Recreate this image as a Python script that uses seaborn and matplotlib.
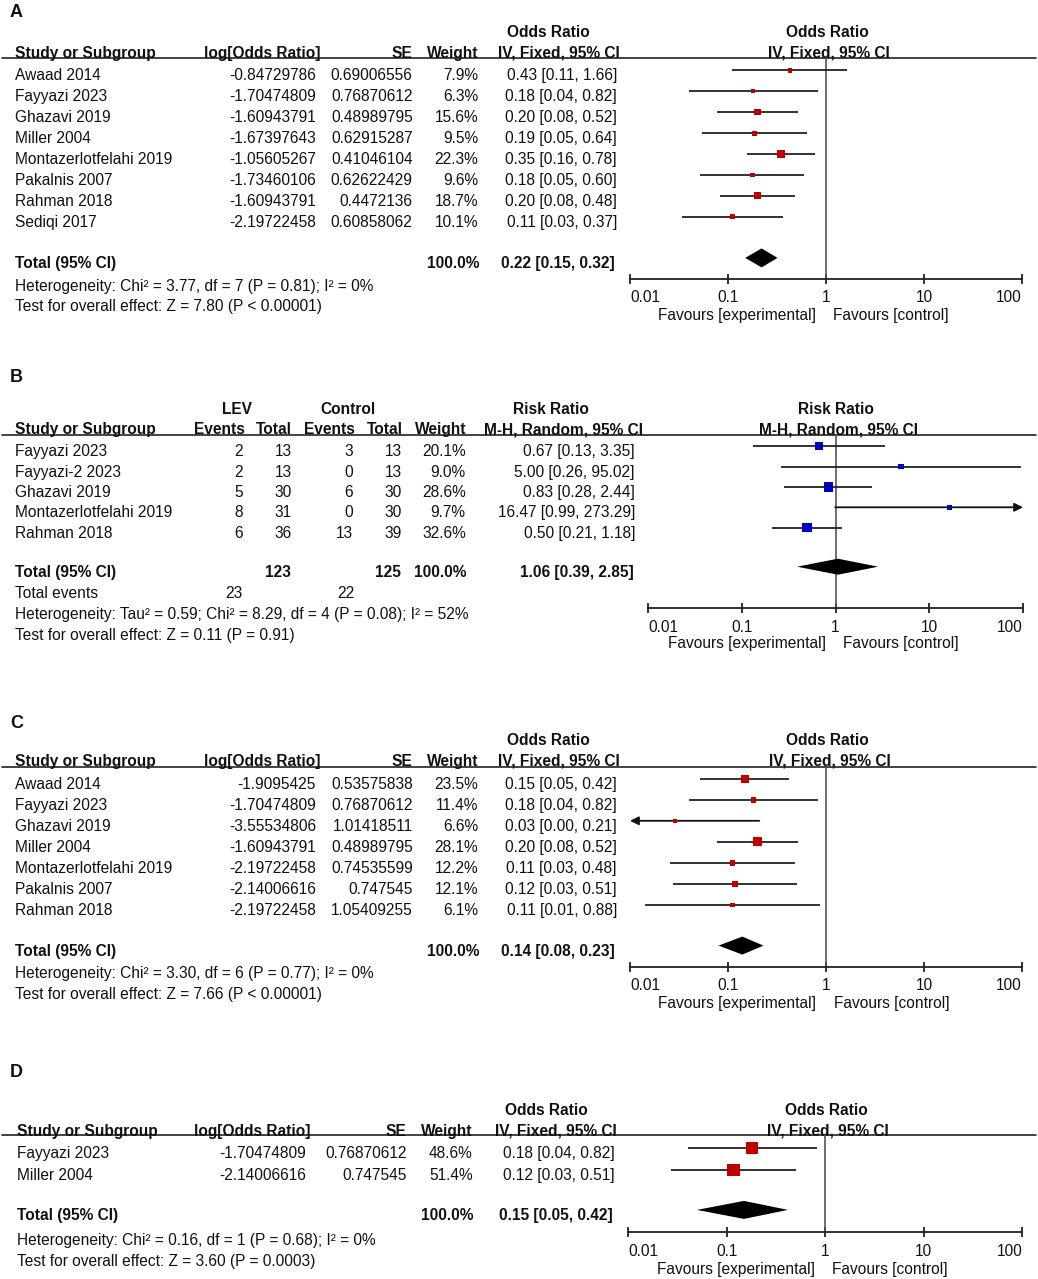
import numpy as np
import pandas as pd
import matplotlib
matplotlib.use('Agg')
import matplotlib.pyplot as plt
import seaborn as sns

# ---- panel A: odds ratio, IV fixed ----
studies_a = ['Awaad 2014', 'Fayyazi 2023', 'Ghazavi 2019', 'Miller 2004',
             'Montazerlotfelahi 2019', 'Pakalnis 2007', 'Rahman 2018', 'Sediqi 2017']
logor_a = [-0.84729786, -1.70474809, -1.60943791, -1.67397643,
           -1.05605267, -1.73460106, -1.60943791, -2.19722458]
se_a = [0.69006556, 0.76870612, 0.48989795, 0.62915287,
        0.41046104, 0.62622429, 0.4472136, 0.60858062]
weight_a = [7.9, 6.3, 15.6, 9.5, 22.3, 9.6, 18.7, 10.1]
or_a = [0.4286, 0.1818, 0.2, 0.1875, 0.3478, 0.1765, 0.2, 0.1111]
lo_a = [0.1108, 0.0403, 0.0766, 0.0546, 0.1556, 0.0517, 0.0833, 0.0337]
hi_a = [1.657, 0.8204, 0.5225, 0.6435, 0.7776, 0.6022, 0.4805, 0.3663]
total_a = (0.22, 0.15, 0.32)
het_a = 'Heterogeneity: Chi² = 3.77, df = 7 (P = 0.81); I² = 0%'
test_a = 'Test for overall effect: Z = 7.80 (P < 0.00001)'

# ---- panel B: risk ratio, M-H random ----
studies_b = ['Fayyazi 2023', 'Fayyazi-2 2023', 'Ghazavi 2019', 'Montazerlotfelahi 2019', 'Rahman 2018']
lev_events = [2, 2, 5, 8, 6]
lev_total = [13, 13, 30, 31, 36]
ctl_events = [3, 0, 6, 0, 13]
ctl_total = [13, 13, 30, 30, 39]
weight_b = [20.1, 9.0, 28.6, 9.7, 32.6]
rr_b = [0.6667, 5.0, 0.8333, 16.47, 0.5]
lo_b = [0.1325, 0.263, 0.2849, 0.9927, 0.2127]
hi_b = [3.354, 95.02, 2.438, 273.29, 1.1755]
total_b = (1.06, 0.39, 2.85)
het_b = 'Heterogeneity: Tau² = 0.59; Chi² = 8.29, df = 4 (P = 0.08); I² = 52%'
test_b = 'Test for overall effect: Z = 0.11 (P = 0.91)'

# ---- panel C ----
studies_c = ['Awaad 2014', 'Fayyazi 2023', 'Ghazavi 2019', 'Miller 2004',
             'Montazerlotfelahi 2019', 'Pakalnis 2007', 'Rahman 2018']
logor_c = [-1.9095425, -1.70474809, -3.55534806, -1.60943791,
           -2.19722458, -2.14006616, -2.19722458]
se_c = [0.53575838, 0.76870612, 1.01418511, 0.48989795,
        0.74535599, 0.747545, 1.05409255]
weight_c = [23.5, 11.4, 6.6, 28.1, 12.2, 12.1, 6.1]
or_c = [0.1481, 0.1818, 0.0286, 0.2, 0.1111, 0.1176, 0.1111]
lo_c = [0.0518, 0.0403, 0.0039, 0.0766, 0.0258, 0.0272, 0.0141]
hi_c = [0.4234, 0.8204, 0.2086, 0.5225, 0.4789, 0.5092, 0.877]
total_c = (0.14, 0.08, 0.23)
het_c = 'Heterogeneity: Chi² = 3.30, df = 6 (P = 0.77); I² = 0%'
test_c = 'Test for overall effect: Z = 7.66 (P < 0.00001)'

# ---- panel D ----
studies_d = ['Fayyazi 2023', 'Miller 2004']
logor_d = [-1.70474809, -2.14006616]
se_d = [0.76870612, 0.747545]
weight_d = [48.6, 51.4]
or_d = [0.1818, 0.1176]
lo_d = [0.0403, 0.0272]
hi_d = [0.8204, 0.5092]
total_d = (0.15, 0.05, 0.42)
het_d = 'Heterogeneity: Chi² = 0.16, df = 1 (P = 0.68); I² = 0%'
test_d = 'Test for overall effect: Z = 3.60 (P = 0.0003)'

ticks = [0.01, 0.1, 1, 10, 100]
tick_labels = ['0.01', '0.1', '1', '10', '100']

sns.set_theme(style='white')
plt.rcParams['font.family'] = ['Liberation Sans', 'DejaVu Sans']

W, H = 1038, 1279
FS = 11.2
INK = '#111111'
LINE = '#222222'
RED = '#c00000'
BLUE = '#0000c0'

fig = plt.figure(figsize=(W / 100, H / 100), dpi=100)
bg = fig.add_axes([0, 0, 1, 1])
bg.set_xlim(0, W)
bg.set_ylim(H, 0)
bg.axis('off')


def txt(x, y, s, ha='left', bold=False, size=FS):
    # y is the visual centre of the capitals, in pixels from the top
    half = size * 100 / 72 * 0.716 / 2
    bg.text(x, y + half, s, ha=ha, va='baseline', fontsize=size,
            fontweight='bold' if bold else 'normal', color=INK)


def ci_text(e, l, h):
    return f'{e:.2f} [{l:.2f}, {h:.2f}]'


def forest(x001, x100, top, axis_y, ys, est, lo, hi, weight, color, k,
           tot_y, tot, dia_h, ref_x, fav_y):
    ax = fig.add_axes([x001 / W, 1 - axis_y / H, (x100 - x001) / W, (axis_y - top) / H])
    ax.set_xscale('log')
    ax.set_xlim(0.01, 100)
    ax.set_ylim(axis_y, top)
    ax.patch.set_alpha(0)

    arrow = dict(arrowstyle='-|>,head_length=0.5,head_width=0.25', color=INK, lw=1.3,
                 shrinkA=0, shrinkB=0, mutation_scale=10)
    for y, l, h in zip(ys, lo, hi):
        if h > 100:
            ax.annotate('', xy=(100, y), xytext=(l, y), annotation_clip=False, arrowprops=arrow)
        elif l < 0.01:
            ax.annotate('', xy=(0.01, y), xytext=(h, y), annotation_clip=False, arrowprops=arrow)
        else:
            ax.hlines(y, l, h, color=LINE, lw=1.3)

    df = pd.DataFrame({'est': est, 'y': ys,
                       'area': [(k * np.sqrt(w) * 0.72) ** 2 for w in weight]})
    amin, amax = df['area'].min(), df['area'].max()
    sns.scatterplot(data=df, x='est', y='y', size='area', sizes=(amin, amax),
                    size_norm=(amin, amax), marker='s', color=color, linewidth=0,
                    legend=False, ax=ax, zorder=3, clip_on=False)

    e, l, h = tot
    ax.fill([l, e, h, e], [tot_y, tot_y - dia_h / 2, tot_y, tot_y + dia_h / 2],
            color='black', lw=0, clip_on=False, zorder=3)
    ax.axvline(1, color='#555555', lw=1.2, zorder=1)

    for s in ['top', 'left', 'right']:
        ax.spines[s].set_visible(False)
    ax.spines['bottom'].set_color(LINE)
    ax.spines['bottom'].set_linewidth(1.3)
    ax.set_xticks(ticks, labels=tick_labels)
    ax.xaxis.set_minor_locator(matplotlib.ticker.NullLocator())
    ax.set_yticks([])
    ax.set_xlabel('')
    ax.set_ylabel('')
    ax.tick_params(axis='x', direction='inout', length=7.2, width=1.3, color=LINE,
                   pad=4.5, labelsize=FS, labelcolor=INK, bottom=True)
    labs = ax.get_xticklabels()
    labs[0].set_ha('left')
    labs[-1].set_ha('right')

    txt(ref_x - 10, fav_y, 'Favours [experimental]', ha='right')
    txt(ref_x + 7, fav_y, 'Favours [control]')
    return ax


def hline(y):
    bg.plot([2, 1036], [y, y], color=LINE, lw=1.2)


def or_panel(letter, label_y, hdr1, hdr2, line_y, row0, step, tot_y, het_y, test_y,
             studies, logor, se, weight, est, lo, hi, tot, het, test,
             cols, fx, k, dia_h):
    name_x, lor_h, lor_v, se_x, w_x, or_x, orh1, orh2 = cols
    x001, x100, ref_x, axis_y, fav_y = fx
    txt(10, label_y, letter, bold=True, size=13)
    txt(orh1, hdr1, 'Odds Ratio', ha='center', bold=True)
    txt(ref_x + 1, hdr1, 'Odds Ratio', ha='center', bold=True)
    txt(name_x, hdr2, 'Study or Subgroup', bold=True)
    txt(lor_h, hdr2, 'log[Odds Ratio]', ha='right', bold=True)
    txt(se_x, hdr2, 'SE', ha='right', bold=True)
    txt(w_x, hdr2, 'Weight', ha='right', bold=True)
    txt(orh2, hdr2, 'IV, Fixed, 95% CI', ha='center', bold=True)
    txt(ref_x + 3, hdr2, 'IV, Fixed, 95% CI', ha='center', bold=True)
    hline(line_y)
    ys = [row0 + i * step for i in range(len(studies))]
    for y, s, lg, sv, w, e, l, h in zip(ys, studies, logor, se, weight, est, lo, hi):
        txt(name_x, y, s)
        txt(lor_v, y, str(lg), ha='right')
        txt(se_x, y, str(sv), ha='right')
        txt(w_x, y, f'{w:.1f}%', ha='right')
        txt(or_x, y, ci_text(e, l, h), ha='right')
    txt(name_x, tot_y, 'Total (95% CI)', bold=True)
    txt(w_x + 1, tot_y, f'{sum(weight):.1f}%', ha='right', bold=True)
    txt(or_x - 2, tot_y, ci_text(*tot), ha='right', bold=True)
    txt(name_x, het_y, het)
    txt(name_x, test_y, test)
    forest(x001, x100, line_y, axis_y, [y - 4.4 for y in ys], est, lo, hi, weight,
           RED, k, tot_y - 4.4, tot, dia_h, ref_x, fav_y)


# A
or_panel('A', 11, 31, 52, 58.3, 74.7, 20.94, 262.3, 285, 305.7,
         studies_a, logor_a, se_a, weight_a, or_a, lo_a, hi_a, total_a, het_a, test_a,
         (15, 320, 316, 412.7, 478.3, 617, 548.5, 559),
         (630, 1022, 826, 279, 314), 1.6, 19)

# B
txt(10, 375.5, 'B', bold=True, size=13)
txt(236.7, 408, 'LEV', ha='center', bold=True)
txt(347.7, 408, 'Control', ha='center', bold=True)
txt(551, 408, 'Risk Ratio', ha='center', bold=True)
txt(836, 408, 'Risk Ratio', ha='center', bold=True)
txt(15, 428.7, 'Study or Subgroup', bold=True)
txt(245, 428.7, 'Events', ha='right', bold=True)
txt(292, 428.7, 'Total', ha='right', bold=True)
txt(355, 428.7, 'Events', ha='right', bold=True)
txt(402.7, 428.7, 'Total', ha='right', bold=True)
txt(466, 428.7, 'Weight', ha='right', bold=True)
txt(564, 428.7, 'M-H, Random, 95% CI', ha='center', bold=True)
txt(838.5, 428.7, 'M-H, Random, 95% CI', ha='center', bold=True)
hline(435)
ys_b = [450.7 + i * 20.33 for i in range(len(studies_b))]
for y, s, le, lt, ce, ct, w, e, l, h in zip(ys_b, studies_b, lev_events, lev_total, ctl_events,
                                           ctl_total, weight_b, rr_b, lo_b, hi_b):
    txt(15, y, s)
    txt(243, y, str(le), ha='right')
    txt(291.7, y, str(lt), ha='right')
    txt(353, y, str(ce), ha='right')
    txt(402, y, str(ct), ha='right')
    txt(465.7, y, f'{w:.1f}%', ha='right')
    txt(635, y, ci_text(e, l, h), ha='right')
txt(15, 571, 'Total (95% CI)', bold=True)
txt(290.7, 571, str(sum(lev_total)), ha='right', bold=True)
txt(401, 571, str(sum(ctl_total)), ha='right', bold=True)
txt(466.7, 571, f'{sum(weight_b):.1f}%', ha='right', bold=True)
txt(634, 571, ci_text(*total_b), ha='right', bold=True)
txt(15, 592.7, 'Total events')
txt(243, 592.7, str(sum(lev_events)), ha='right')
txt(354, 592.7, str(sum(ctl_events)), ha='right')
txt(15, 613, het_b)
txt(15, 634, test_b)
forest(648, 1023, 435, 608.3, [y - 4.4 for y in ys_b], rr_b, lo_b, hi_b, weight_b,
       BLUE, 1.7, 566.7, total_b, 16, 836, 642)

# C
or_panel('C', 722, 739.3, 760, 766.7, 783.3, 20.95, 950, 972.3, 993.3,
         studies_c, logor_c, se_c, weight_c, or_c, lo_c, hi_c, total_c, het_c, test_c,
         (15, 320, 316, 412.7, 478.3, 617, 548.5, 559),
         (630, 1022, 826.5, 966.7, 1002.3), 1.65, 18)

# D
or_panel('D', 1071, 1109, 1130, 1135, 1152.3, 22, 1214.3, 1239.3, 1260,
         studies_d, logor_d, se_d, weight_d, or_d, lo_d, hi_d, total_d, het_d, test_d,
         (16.7, 311, 306, 406.5, 472.7, 614.7, 546, 556),
         (628, 1022.3, 825.3, 1232.3, 1268.3), 1.77, 18)

fig.savefig('out.png', dpi=100)
